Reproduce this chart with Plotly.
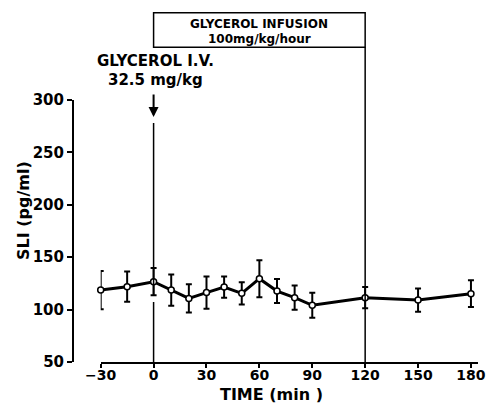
import plotly.graph_objects as go

time_min = [-30, -15, 0, 10, 20, 30, 40, 50, 60, 70, 80, 90, 120, 150, 180]
sli_mean = [118.6, 121.9, 126.6, 118.6, 110.7, 116.2, 121.5, 115.5, 129.5, 117.7, 111.4, 104.1, 111.4, 109.1, 115.2]
sli_sem = [18.2, 14.5, 13.0, 15.0, 13.5, 15.3, 10.1, 10.6, 17.7, 11.4, 11.5, 11.9, 10.1, 11.1, 12.7]
x_ticks = [-30, 0, 30, 60, 90, 120, 150, 180]
y_ticks = [50, 100, 150, 200, 250, 300]

FONT = "DejaVu Sans"
W, H = 488, 405
# plot area in reference pixel coords: x 60..478, y 100..362
ML, MT = 60, 100
MR = W - 478
MB = H - 362
PW = W - ML - MR
PH = H - MT - MB


def px_x(px):
    return (px - ML) / PW


def px_y(py):
    return (H - MB - py) / PH


fig = go.Figure()
fig.add_trace(go.Scatter(
    x=time_min, y=sli_mean,
    mode="lines+markers",
    line=dict(color="black", width=3),
    marker=dict(size=6, color="white", line=dict(color="black", width=1.5)),
    error_y=dict(type="data", array=sli_sem, color="black", thickness=2, width=3),
    cliponaxis=False,
    showlegend=False,
))

# vertical reference lines (line at 0 has a small break below the data point)
fig.add_shape(type="line", xref="x", yref="paper", x0=0, x1=0,
              y0=0, y1=px_y(302), line=dict(color="black", width=1.5))
fig.add_shape(type="line", xref="x", yref="paper", x0=0, x1=0,
              y0=px_y(296), y1=px_y(123), line=dict(color="black", width=1.5))
fig.add_shape(type="line", xref="x", yref="paper", x0=120, x1=120,
              y0=0, y1=px_y(47.3), line=dict(color="black", width=1.5))
# infusion box
fig.add_shape(type="rect", xref="x", yref="paper", x0=0, x1=120,
              y0=px_y(47.3), y1=px_y(12.7), line=dict(color="black", width=1.5),
              fillcolor="white")


def label(x, xref, y, text, size, **kw):
    fig.add_annotation(x=x, xref=xref, y=y, yref="paper", text=text,
                       showarrow=False, xanchor="center", yanchor="middle",
                       font=dict(family=FONT, size=size, color="black", weight="bold"), **kw)


label(60, "x", px_y(24), "GLYCEROL INFUSION", 12)
label(60, "x", px_y(39), "100mg/kg/hour", 12)
label(1, "x", px_y(61), "GLYCEROL I.V.", 15)
label(1, "x", px_y(80), "32.5 mg/kg", 15)
label(px_x(23), "paper", px_y(211), "SLI (pg/ml)", 16, textangle=-90)
label(px_x(271), "paper", px_y(394.5), "TIME (min )", 16)

# arrow
fig.add_annotation(x=0, xref="x", y=px_y(117), yref="paper", text="",
                   showarrow=True, ax=0, ay=-24, arrowhead=2, arrowsize=1,
                   arrowwidth=2, arrowcolor="black", standoff=0)

fig.update_layout(
    width=W, height=H,
    margin=dict(l=ML, r=MR, t=MT, b=MB, autoexpand=False),
    paper_bgcolor="white", plot_bgcolor="white",
    xaxis=dict(domain=[px_x(100.7), 1], range=[-30, 184], tickvals=x_ticks,
               showline=True, linecolor="black", linewidth=2,
               ticks="outside", ticklen=4, tickwidth=2, tickcolor="black",
               ticklabelstandoff=-5,
               showgrid=False, zeroline=False, anchor="y", automargin=False,
               tickfont=dict(family=FONT, size=14, color="black", weight="bold")),
    yaxis=dict(range=[50, 300], tickvals=y_ticks, anchor="free", position=px_x(73),
               showline=True, linecolor="black", linewidth=2,
               ticks="outside", ticklen=5, tickwidth=2, tickcolor="black",
               showgrid=False, zeroline=False, automargin=False,
               tickfont=dict(family=FONT, size=15, color="black", weight="bold")),
)

fig.write_html(
    "out.html",
    config={"displayModeBar": False},
    post_script="document.body.style.margin='0';document.body.style.overflow='hidden';",
)
